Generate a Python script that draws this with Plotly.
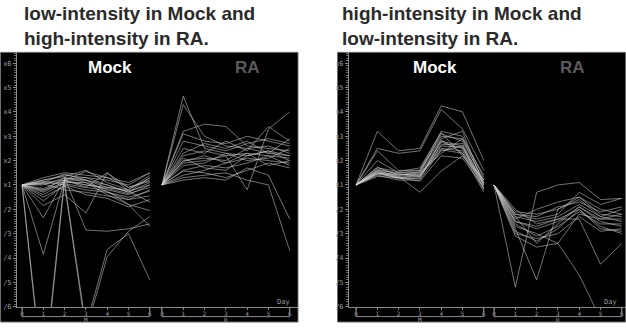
import plotly.graph_objects as go

W, H = 626, 329

days = [0, 1, 2, 3, 4, 5, 6]
y_tickvals = [-5, -4, -3, -2, -1, 0, 1, 2, 3, 4, 5]
y_ticktext = ["/6", "/5", "/4", "/3", "/2", "x1", "x2", "x3", "x4", "x5", "x6"]

# Panel A: low-intensity in Mock, high-intensity in RA (log-ratio units)
a_mock = [
    [0, 0.3, 0.5, 0.4, 0.3, 0.1, 0.5],
    [0, 0.2, 0.35, 0.6, 0.1, -0.2, 0.4],
    [0, 0.1, 0.2, -0.1, 0.5, -0.1, 0.2],
    [0, -0.25, 0.3, 0.2, 0.0, -0.3, 0.3],
    [0, -0.4, 0.1, 0.1, -0.2, -0.4, 0.0],
    [0, -0.65, 0.0, -0.2, -0.3, -0.5, -0.25],
    [0, -0.85, -0.4, -1.15, 0.5, -0.25, -0.7],
    [0, -1.35, 0.25, 0.3, 0.0, -0.3, 0.1],
    [0, -2.85, 0.2, 0.0, -0.1, -0.25, 0.0],
    [0, -8.0, 0.3, 0.1, -0.4, -0.8, -1.05],
    [0, -8.3, 0.2, 0.2, -0.3, -0.6, -0.2],
    [0, 0.0, 0.3, -1.85, -1.9, -1.8, -1.6],
    [0, 0.05, 0.1, -5.8, -2.65, -2.0, -3.9],
    [0, 0.15, 0.0, -6.0, -2.95, -1.9, -1.3],
    [0, 0.2, 0.4, 0.3, 0.2, 0.0, 0.5],
    [0, 0.1, 0.45, 0.2, -0.1, -0.2, 0.3],
    [0, -0.15, 0.2, 0.55, 0.3, -0.1, 0.15],
    [0, -0.3, 0.15, 0.0, -0.15, -0.35, -0.1],
    [0, 0.05, -0.2, -0.3, -0.45, -0.6, -0.45],
    [0, -0.5, -0.05, -0.4, -0.55, -0.9, -0.6],
    [0, -0.2, 0.05, -0.1, -0.25, -0.8, -1.7],
]
a_ra = [
    [0, 3.65, 1.5, 1.3, 1.2, 1.4, 1.0],
    [0, 3.3, 2.0, 1.6, 1.5, 1.3, 1.2],
    [0, 2.2, 2.5, 2.4, 1.6, 1.5, 1.4],
    [0, 2.1, 1.8, 1.7, 2.0, 1.8, 1.6],
    [0, 1.8, 1.6, 1.4, 1.7, 1.9, 1.7],
    [0, 1.5, 1.3, 1.8, 1.4, 2.4, 1.8],
    [0, 1.2, 1.4, 1.2, 1.3, 1.2, 1.1],
    [0, 1.0, 1.1, 1.0, 1.5, 1.6, 1.3],
    [0, 0.97, 1.2, 0.9, 1.1, 1.0, 0.9],
    [0, 0.8, 0.9, 1.3, 1.0, 1.1, 1.5],
    [0, 0.6, 0.8, 0.7, 0.9, 1.2, 0.8],
    [0, 0.57, 0.5, 0.3, 0.6, 0.9, 0.7],
    [0, 0.3, 0.4, 0.5, 0.2, 0.0, -2.7],
    [0, 0.2, 0.3, 0.2, 0.7, 0.4, -1.4],
    [0, 0.9, 1.0, 1.2, -0.2, 2.3, 3.0],
    [0, 1.3, 1.7, 1.5, 1.8, 1.3, 1.9],
    [0, 1.1, 0.7, 0.6, 1.2, 1.4, 1.2],
    [0, 0.4, 0.6, 0.9, 1.3, 0.8, 1.0],
]

# Panel B: high-intensity in Mock, low-intensity in RA
b_mock = [
    [0, 2.2, 1.4, 1.5, 3.25, 3.0, 1.0],
    [0, 1.5, 1.3, 1.4, 3.1, 2.3, 0.6],
    [0, 1.4, 0.6, 0.6, 2.2, 2.0, 0.3],
    [0, 1.0, 0.5, 0.5, 2.1, 1.8, 0.2],
    [0, 0.73, 0.4, 0.55, 1.9, 2.2, 0.0],
    [0, 0.6, 0.35, 0.45, 1.8, 1.6, 0.1],
    [0, 0.55, 0.3, 0.35, 1.75, 1.5, -0.1],
    [0, 0.5, 0.25, 0.3, 1.6, 1.55, 0.0],
    [0, 0.45, 0.45, 0.4, 1.5, 1.4, -0.2],
    [0, 0.4, 0.2, 0.2, 1.45, 1.3, -0.3],
    [0, 0.5, 0.35, -0.3, 0.57, 1.2, 0.2],
    [0, 0.6, 0.5, 0.6, 2.0, 1.9, 0.4],
    [0, 0.45, 0.3, 0.15, 1.2, 1.1, -0.1],
    [0, 0.55, 0.4, 0.5, 1.3, 1.9, 0.1],
    [0, 0.65, 0.45, 0.35, 1.65, 1.7, 0.0],
    [0, 0.5, 0.3, 0.25, 1.85, 1.3, 0.2],
    [0, 0.35, 0.3, 0.4, 1.4, 1.6, -0.15],
    [0, 0.7, 0.55, 0.7, 2.15, 1.2, 0.05],
]
b_ra = [
    [0, -4.2, -0.3, 0.0, 0.1, -0.6, -0.55],
    [0, -1.8, -3.9, -1.0, -0.6, -1.3, -1.5],
    [0, -1.1, -1.2, -1.0, -0.5, -1.0, -1.2],
    [0, -1.3, -1.5, -1.3, -0.8, -1.3, -1.0],
    [0, -1.5, -1.8, -1.5, -0.9, -1.5, -1.7],
    [0, -1.6, -2.1, -1.7, -1.1, -1.6, -1.6],
    [0, -1.9, -2.3, -1.8, -1.0, -1.8, -1.9],
    [0, -2.1, -2.55, -2.4, -1.2, -1.4, -1.4],
    [0, -1.2, -1.4, -1.2, -0.3, -0.8, -0.55],
    [0, -1.4, -1.0, -0.7, -0.5, -1.2, -1.3],
    [0, -1.7, -2.0, -2.4, -3.7, -5.5, -6.0],
    [0, -1.0, -1.6, -1.4, -1.4, -3.25, -2.4],
    [0, -1.2, -1.3, -0.9, -0.7, -1.1, -0.9],
    [0, -1.5, -1.7, -1.4, -1.0, -1.7, -2.0],
    [0, -2.0, -2.2, -2.0, -1.3, -1.9, -1.8],
    [0, -1.3, -2.4, -1.6, -0.9, -1.4, -1.2],
]

panels = [
    dict(title="low-intensity in Mock and<br>high-intensity in RA.", mock=a_mock, ra=a_ra,
         ra_off=6.57, box=(0.5, 53, 298, 326), ax_left=17, x0px=22, tx=22,
         mock_lbl=110, ra_lbl=247),
    dict(title="high-intensity in Mock and<br>low-intensity in RA.", mock=b_mock, ra=b_ra,
         ra_off=6.48, box=(337.5, 53, 625.5, 326), ax_left=349, x0px=356, tx=340,
         mock_lbl=435, ra_lbl=572),
]

PPU = 21.3
Y_BOT_PX, Y_TOP_PX = 310.5, 53
Y_RANGE = [-5, 5 + (64 - 53) / 24.7]


def px(x):
    return x / W


def py(y):
    return (H - y) / H


fig = go.Figure()
shapes = []
annotations = []
line_col = "rgba(205,205,205,0.8)"
axis_col = "#8a8a8a"
tick_font = dict(family="DejaVu Sans Mono", size=7, color="#9a9a9a")
small_font = dict(family="DejaVu Sans Mono", size=6, color="#9a9a9a")

for i, p in enumerate(panels):
    suffix = "" if i == 0 else str(i + 1)
    xref = "x" + suffix
    yref = "y" + suffix
    x0, y0, x1, y1 = p["box"]
    shapes.append(dict(type="rect", xref="paper", yref="paper", x0=px(x0), x1=px(x1),
                       y0=py(y1), y1=py(y0), fillcolor="black",
                       line=dict(color="#707070", width=1), layer="below"))
    for series in p["mock"]:
        fig.add_trace(go.Scatter(x=days, y=series, mode="lines", xaxis=xref, yaxis=yref,
                                 line=dict(color=line_col, width=0.7), showlegend=False,
                                 hoverinfo="skip"))
    ra_x = [p["ra_off"] + d for d in days]
    for series in p["ra"]:
        fig.add_trace(go.Scatter(x=ra_x, y=series, mode="lines", xaxis=xref, yaxis=yref,
                                 line=dict(color=line_col, width=0.7), showlegend=False,
                                 hoverinfo="skip"))

    xr0 = (p["ax_left"] - p["x0px"]) / PPU
    xr1 = (x1 - p["x0px"]) / PPU
    tickvals = list(days) + ra_x
    ticktext = [str(d) for d in days] * 2
    xa = dict(domain=[px(p["ax_left"]), px(x1)], range=[xr0, xr1], anchor=yref,
              tickvals=tickvals, ticktext=ticktext, ticks="outside", ticklen=2,
              ticklabelstandoff=-1,
              tickcolor=axis_col, tickfont=small_font, showline=True, linecolor=axis_col,
              linewidth=1, showgrid=False, zeroline=False, fixedrange=True)
    ya = dict(domain=[py(Y_BOT_PX), py(Y_TOP_PX)], range=Y_RANGE, anchor=xref,
              tickvals=y_tickvals, ticktext=y_ticktext, ticks="outside", ticklen=3,
              tickcolor=axis_col, tickfont=tick_font, showline=True, linecolor=axis_col,
              linewidth=1, showgrid=False, zeroline=False, fixedrange=True,
              minor=dict(dtick=0.1, tick0=0, ticks="outside", ticklen=2,
                         tickcolor="#6a6a6a", showgrid=False))
    fig.update_layout({"xaxis" + suffix: xa, "yaxis" + suffix: ya})

    # group brackets under the day axis
    for start, lbl in ((0, "M"), (p["ra_off"], "R")):
        end = start + days[-1]
        for xv in (start, end):
            shapes.append(dict(type="line", xref=xref, yref="paper", x0=xv, x1=xv,
                               y0=py(Y_BOT_PX), y1=py(320.5),
                               line=dict(color=axis_col, width=1)))
        shapes.append(dict(type="line", xref=xref, yref="paper", x0=start, x1=end,
                           y0=py(320.5), y1=py(320.5), line=dict(color=axis_col, width=1)))
        annotations.append(dict(x=(start + end) / 2, y=py(323), xref=xref, yref="paper",
                                text=lbl, showarrow=False, font=small_font,
                                xanchor="center", yanchor="middle"))
    day_x = min(p["ra_off"] + days[-1] + 0.15, xr1 - 0.7)
    annotations.append(dict(x=day_x, y=py(306), xref=xref,
                            yref="paper", text="Day", showarrow=False, font=tick_font,
                            xanchor="center", yanchor="middle"))

    annotations.append(dict(x=px(p["mock_lbl"]), y=py(68), xref="paper", yref="paper",
                            text="<b>Mock</b>", showarrow=False,
                            font=dict(family="Liberation Sans", size=17, color="white"),
                            xanchor="center", yanchor="middle"))
    annotations.append(dict(x=px(p["ra_lbl"]), y=py(68), xref="paper", yref="paper",
                            text="<b>RA</b>", showarrow=False,
                            font=dict(family="Liberation Sans", size=17, color="#5a5a5a"),
                            xanchor="center", yanchor="middle"))
    annotations.append(dict(x=px(p["tx"]), y=py(26), xref="paper", yref="paper",
                            text="<b>" + p["title"].replace("<br>", "</b><br><b>") + "</b>",
                            showarrow=False, align="left",
                            font=dict(family="Liberation Sans", size=19, color="#2a2a2a"),
                            xanchor="left", yanchor="middle"))

fig.update_layout(width=W, height=H, margin=dict(l=0, r=0, t=0, b=0),
                  paper_bgcolor="white", plot_bgcolor="rgba(0,0,0,0)",
                  shapes=shapes, annotations=annotations, showlegend=False)

fig.write_html("out.html", config={"displayModeBar": False})
